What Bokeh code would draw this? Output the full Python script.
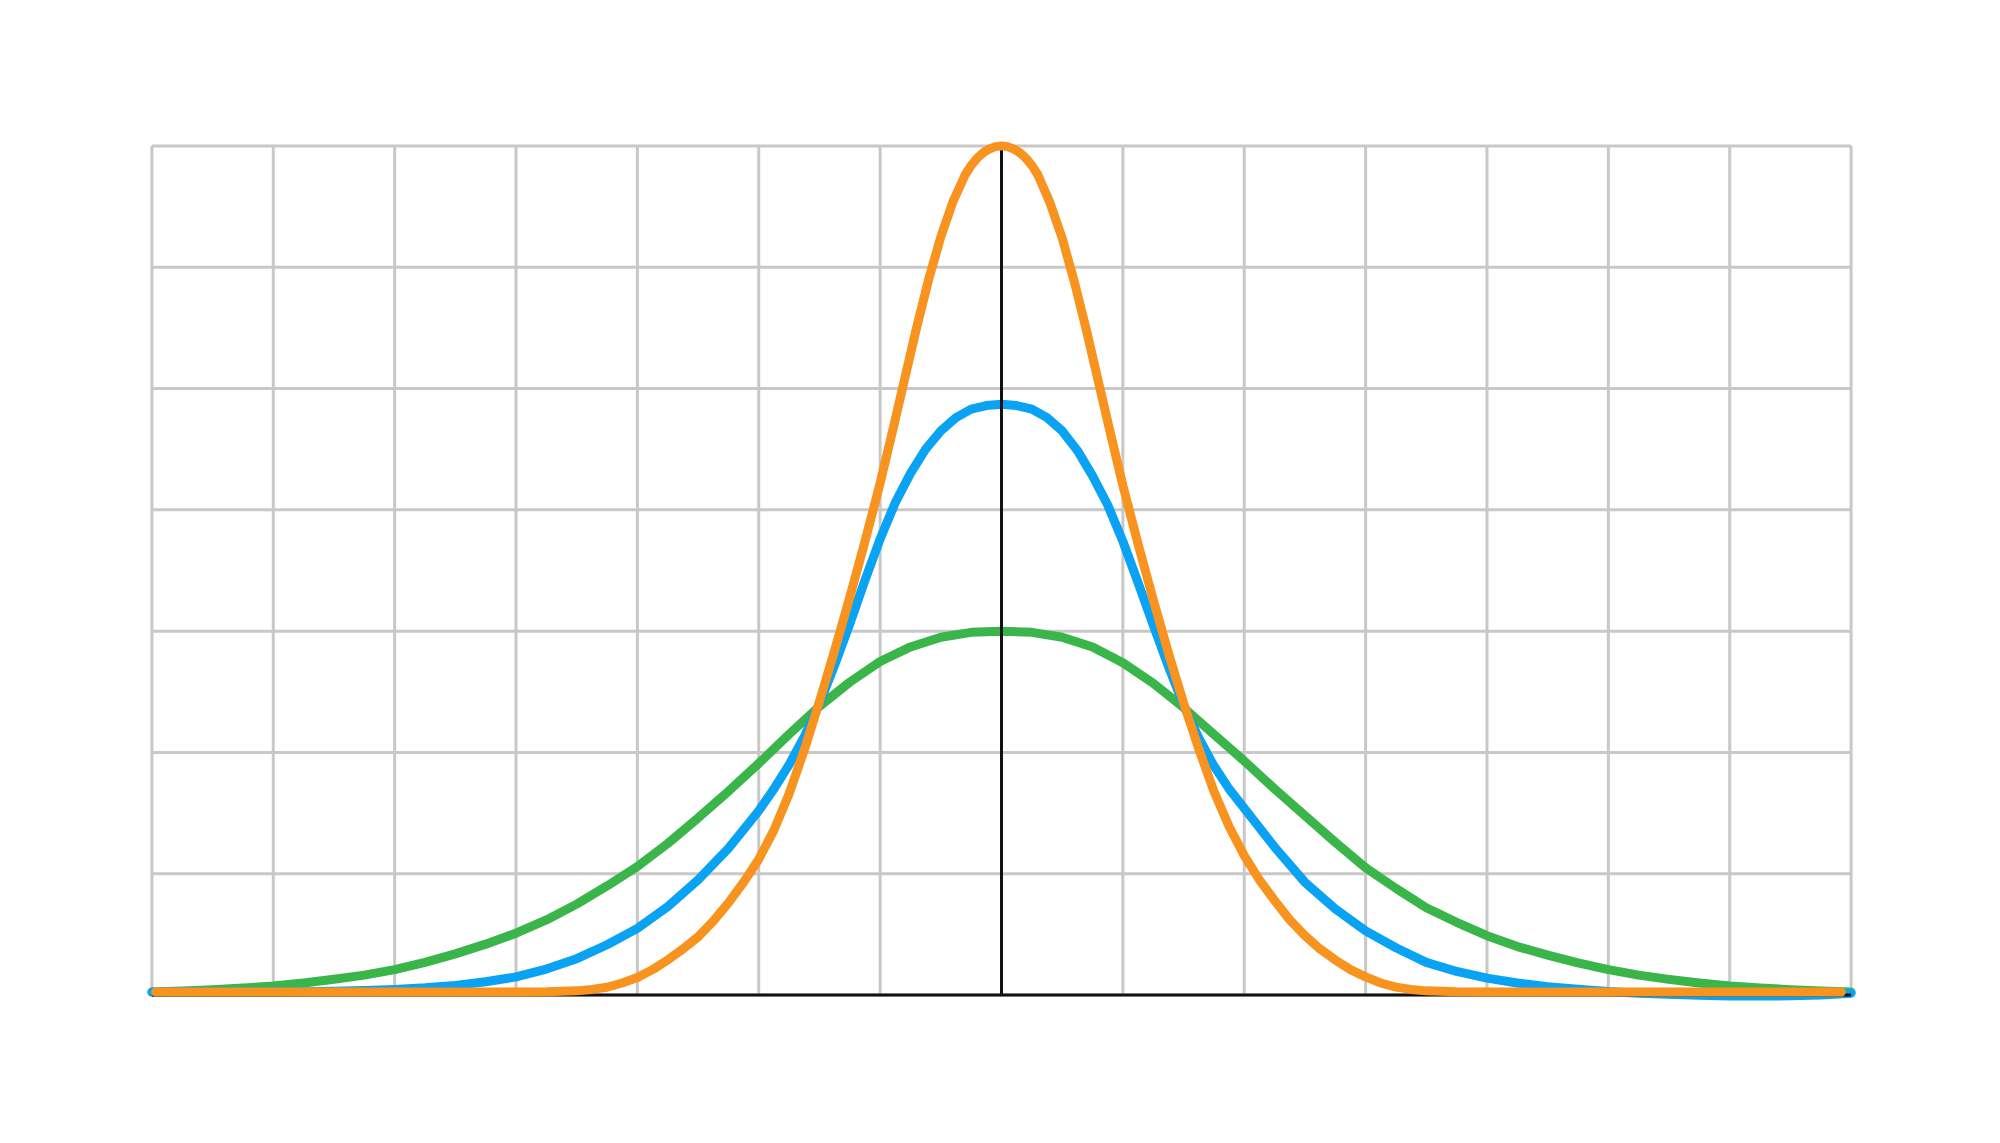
from bokeh.plotting import figure
from bokeh.embed import file_html
from bokeh.resources import INLINE

# grid positions (in grid units)
grid_x = [-7, -6, -5, -4, -3, -2, -1, 0, 1, 2, 3, 4, 5, 6, 7]
grid_y = [0, 1, 2, 3, 4, 5, 6, 7]

# green curve (widest)
green_x = [-7, -6.75, -6.5, -6.25, -6, -5.75, -5.5, -5.25, -5, -4.75, -4.5, -4.25, -4, -3.75, -3.5, -3.25,
           -3, -2.75, -2.5, -2.25, -2, -1.75, -1.5, -1.25, -1, -0.75, -0.5, -0.25, 0,
           0.25, 0.5, 0.75, 1, 1.25, 1.5, 1.75, 2, 2.25, 2.5, 2.75, 3, 3.25, 3.5, 3.75, 4,
           4.25, 4.5, 4.75, 5, 5.25, 5.5, 5.75, 6, 6.25, 6.5, 6.75, 7]
green_y = [0.025, 0.033, 0.045, 0.058, 0.075, 0.10, 0.13, 0.165, 0.21, 0.27, 0.34, 0.42, 0.51, 0.62, 0.75, 0.90,
           1.06, 1.25, 1.46, 1.68, 1.91, 2.15, 2.38, 2.58, 2.75, 2.87, 2.95, 2.99, 3.0,
           2.99, 2.95, 2.87, 2.74, 2.57, 2.37, 2.15, 1.93, 1.70, 1.48, 1.26, 1.05, 0.88, 0.72, 0.60, 0.49,
           0.40, 0.33, 0.265, 0.21, 0.165, 0.13, 0.10, 0.075, 0.058, 0.045, 0.033, 0.025]

# blue curve (middle)
blue_x = [-7, -6.5, -6, -5.75, -5.5, -5.25, -5, -4.75, -4.5, -4.25, -4, -3.75, -3.5, -3.25, -3, -2.75,
          -2.5, -2.25, -2, -1.875, -1.75, -1.625, -1.5, -1.375, -1.25, -1.125, -1, -0.875, -0.75, -0.625,
          -0.5, -0.375, -0.25, -0.125, 0,
          0.125, 0.25, 0.375, 0.5, 0.625, 0.75, 0.875, 1, 1.125, 1.25, 1.375, 1.5, 1.625, 1.75, 1.875, 2,
          2.25, 2.5, 2.75, 3, 3.25, 3.5, 3.75, 4, 4.25, 4.5, 4.75, 5, 5.25, 5.5, 5.75, 6, 6.25, 6.5, 6.75, 7]
blue_y = [0.025, 0.025, 0.026, 0.028, 0.032, 0.038, 0.047, 0.06, 0.08, 0.11, 0.15, 0.215, 0.30, 0.415, 0.55, 0.73,
          0.95, 1.21, 1.52, 1.70, 1.90, 2.13, 2.40, 2.72, 3.06, 3.42, 3.76, 4.06, 4.30, 4.50,
          4.65, 4.76, 4.83, 4.86, 4.87,
          4.86, 4.83, 4.76, 4.65, 4.49, 4.28, 4.04, 3.74, 3.40, 3.05, 2.71, 2.39, 2.12, 1.89, 1.70, 1.54,
          1.22, 0.93, 0.71, 0.53, 0.39, 0.27, 0.195, 0.14, 0.10, 0.07, 0.048, 0.03, 0.016, 0.006, -0.002, -0.007, -0.008, -0.006, 0.0, 0.015]

# orange curve (narrowest)
orange_x = [-6.97, -4, -3.75, -3.5, -3.375, -3.25, -3.125, -3, -2.875, -2.75, -2.625, -2.5, -2.375, -2.25,
            -2.125, -2, -1.875, -1.75, -1.625, -1.5, -1.375, -1.25, -1.125, -1, -0.9, -0.8, -0.7, -0.6,
            -0.5, -0.4, -0.3, -0.25, -0.2, -0.15, -0.1, -0.05, 0,
            0.05, 0.1, 0.15, 0.2, 0.25, 0.3, 0.4, 0.5, 0.6, 0.7, 0.8, 0.9, 1, 1.125, 1.25, 1.375, 1.5, 1.625, 1.75, 1.875, 2,
            2.125, 2.25, 2.375, 2.5, 2.625, 2.75, 2.875, 3, 3.125, 3.25, 3.375, 3.5, 3.75, 4, 6.92]
orange_y = [0.025, 0.025, 0.027, 0.035, 0.047, 0.065, 0.10, 0.145, 0.21, 0.29, 0.38, 0.48, 0.61, 0.76,
            0.93, 1.12, 1.36, 1.66, 2.02, 2.42, 2.84, 3.28, 3.74, 4.22, 4.64, 5.07, 5.50, 5.90,
            6.25, 6.54, 6.76, 6.84, 6.90, 6.945, 6.975, 6.994, 7.0,
            6.994, 6.975, 6.945, 6.90, 6.84, 6.76, 6.53, 6.24, 5.88, 5.48, 5.05, 4.62, 4.20, 3.72, 3.26, 2.82, 2.41, 2.03, 1.68, 1.39, 1.15,
            0.95, 0.78, 0.62, 0.49, 0.38, 0.29, 0.21, 0.15, 0.10, 0.066, 0.047, 0.035, 0.027, 0.025, 0.025]

GRID_COLOR = "#c8c8c8"
GREEN = "#39b54a"
BLUE = "#0aa2f2"
ORANGE = "#f7931e"

p = figure(width=1984, height=1127,
           x_range=(-7.3, 7.3), y_range=(-0.3, 7.3),
           x_axis_type=None, y_axis_type=None,
           output_backend="svg", toolbar_location=None,
           min_border_left=115, min_border_right=97,
           min_border_top=109, min_border_bottom=96)
p.outline_line_color = None
p.background_fill_color = "white"
p.border_fill_color = "white"

x_lo, x_hi = min(grid_x), max(grid_x)
y_lo, y_hi = min(grid_y), max(grid_y)

# grid
p.segment(x0=grid_x, y0=[y_lo] * len(grid_x), x1=grid_x, y1=[y_hi] * len(grid_x),
          line_color=GRID_COLOR, line_width=3)
p.segment(x0=[x_lo] * len(grid_y), y0=grid_y, x1=[x_hi] * len(grid_y), y1=grid_y,
          line_color=GRID_COLOR, line_width=3)

# curves underneath the axes
p.line(green_x, green_y, line_color=GREEN, line_width=9, line_cap="round", line_join="round")
p.line(blue_x, blue_y, line_color=BLUE, line_width=9, line_cap="round", line_join="round")

# black axes
p.segment(x0=[x_lo], y0=[0], x1=[x_hi], y1=[0], line_color="#111111", line_width=3)
p.segment(x0=[0], y0=[y_lo], x1=[0], y1=[y_hi], line_color="#111111", line_width=3)

p.line(orange_x, orange_y, line_color=ORANGE, line_width=9, line_cap="round", line_join="round")

open("out.html", "w").write(file_html(p, INLINE))
